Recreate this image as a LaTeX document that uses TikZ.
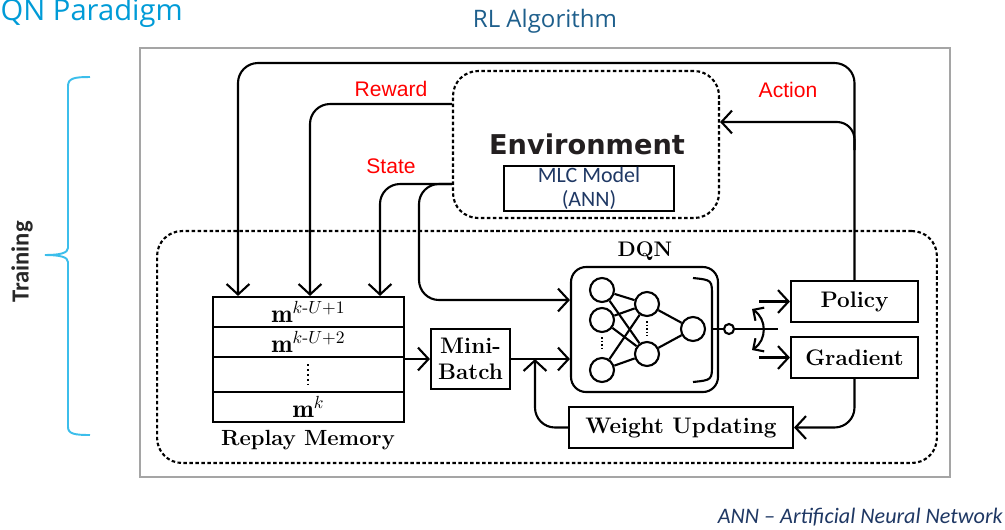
\documentclass[tikz,border=0pt]{standalone}
\usepackage{fontspec}
\usepackage{amsmath}
\usetikzlibrary{arrows.meta}
\newfontfamily\osans{Open Sans}
\newfontfamily\carlito{Carlito}
\newfontfamily\lsans{Liberation Sans}
\newfontfamily\djv{DejaVu Sans}
\definecolor{titleblue}{RGB}{0,155,215}
\definecolor{rlblue}{RGB}{30,95,140}
\definecolor{navy}{RGB}{31,56,100}
\definecolor{bracecyan}{RGB}{60,190,235}
\definecolor{framegray}{RGB}{165,165,165}
\definecolor{envblack}{RGB}{35,31,32}
\definecolor{trgray}{RGB}{40,40,40}
\definecolor{lblred}{RGB}{255,0,0}
\begin{document}
\begin{tikzpicture}[x=0.02cm,y=-0.02cm,
  ln/.style={line width=1.2pt},
  tip/.tip={Straight Barb[length=6pt,width=13pt,line width=1.2pt]},
  stip/.tip={Straight Barb[length=4.5pt,width=9pt,line width=1.2pt]},
  arr/.style={ln,-tip},
  dotbox/.style={draw,line width=1.2pt,dash pattern=on 2pt off 1.4pt,rounded corners=0.5cm},
  boxst/.style={draw,ln,inner sep=0pt,font=\bfseries\fontsize{12.8}{15}\selectfont},
  row/.style={draw,ln,inner sep=0pt,minimum width=3.82cm,font=\fontsize{14.5}{16}\selectfont},
  neu/.style={circle,draw,ln,minimum size=0.48cm,inner sep=0pt},
  rlabel/.style={font=\lsans\fontsize{12}{14}\selectfont,text=lblred},
]
\useasboundingbox (0,0) rectangle (1005,529);

% titles
\node[anchor=base east,inner sep=0pt,font=\osans\fontsize{16.6}{19}\selectfont,text=titleblue] (ttl) at (183,20) {DQN Paradigm};
\node[anchor=base,inner sep=0pt,font=\osans\fontsize{13.7}{16}\selectfont,text=rlblue] (rl) at (545,27) {RL Algorithm};

% outer frame
\draw[framegray,line width=1.3pt] (140,48) rectangle (950,477);

% environment
\node[dotbox,minimum width=5.32cm,minimum height=2.94cm] (env) at (586,144.5) {};
\node[font=\djv\bfseries\fontsize{15.5}{18}\selectfont,text=envblack] (envt) at (587,144) {Environment};
\node[draw,line width=1.3pt,minimum width=3.4cm,minimum height=0.9cm,inner sep=0pt,align=center,
      font=\carlito\fontsize{12.5}{13.5}\selectfont,text=navy] (mlc) at (589,188.5) {MLC Model\\(ANN)};

% training box
\node[dotbox,minimum width=15.6cm,minimum height=4.64cm] (train) at (547,347) {};

% replay memory
\node[row,minimum height=0.6cm] (r1) at (308.5,312) {$\mathbf{m}^{k\text{-}U+1}$};
\node[row,minimum height=0.6cm] (r2) at (308.5,342) {$\mathbf{m}^{k\text{-}U+2}$};
\node[row,minimum height=0.7cm] (r3) at (308.5,374.5) {};
\node[row,minimum height=0.6cm] (r4) at (308.5,407) {$\mathbf{m}^{k}$};
\draw[line width=1.6pt,dash pattern=on 1.4pt off 1.4pt] (308,364) -- (308,384);
\node[font=\bfseries\fontsize{12.5}{14}\selectfont] (rml) at (308,440) {Replay Memory};

% mini-batch
\node[boxst,minimum width=1.58cm,minimum height=1.2cm,align=center] (mb) at (470.5,359) {Mini-\\Batch};

% DQN
\node[draw,ln,rounded corners=0.3cm,minimum width=2.94cm,minimum height=2.5cm] (dqn) at (644.5,329.5) {};
\node[font=\bfseries\fontsize{12}{14}\selectfont] (dqnl) at (645,251) {DQN};
\node[neu] (i1) at (602,290) {};
\node[neu] (i2) at (602,320) {};
\node[neu] (i3) at (602,370) {};
\node[neu] (h1) at (647,304) {};
\node[neu] (h2) at (647,354) {};
\node[neu] (o) at (693,329) {};
\foreach \a in {i1,i2,i3}{\foreach \b in {h1,h2}{\draw[ln] (\a) -- (\b);}}
\draw[ln] (h1) -- (o);
\draw[ln] (h2) -- (o);
\draw[line width=1.2pt,dash pattern=on 1pt off 1pt] (602,337) -- (602,351);
\draw[line width=1.2pt,dash pattern=on 1pt off 1pt] (647,321) -- (647,336);
\draw[ln] (693,278) .. controls (712,280) .. (712,296) -- (712,364) .. controls (712,380) .. (693,382);
\coordinate (bk) at (712,329);
\node[circle,draw,ln,minimum size=0.2cm,inner sep=0pt] (sc) at (729,329) {};
\coordinate (oe) at (778,329);
\draw[ln] (bk) -- (sc.west);
\draw[ln] (sc.east) -- (oe);
\coordinate (swt) at (752,309);
\coordinate (swb) at (752,350);
\draw[ln,stip-stip] (swt) .. controls (767,319) and (767,340) .. (swb);

% policy, gradient, weight updating
\node[boxst,minimum width=2.54cm,minimum height=0.82cm] (pol) at (854.5,301.5) {Policy};
\node[boxst,minimum width=2.54cm,minimum height=0.82cm] (grad) at (854.5,357.5) {Gradient};
\node[boxst,minimum width=4.48cm,minimum height=0.82cm] (wu) at (681,427.5) {Weight Updating};
\coordinate (pa) at (759,301.5);
\coordinate (ga) at (759,357.5);
\draw[arr] (pa) -- (pol.west);
\draw[arr] (ga) -- (grad.west);

% connectors
\coordinate (c1) at (854.5,63);
\coordinate (c2) at (238,63);
\draw[arr,rounded corners=0.4cm] (pol.north) -- (c1) -- (c2) -- (c2 |- r1.north);
\coordinate (aj) at (854.5,150);
\coordinate (ac) at (854.5,122);
\draw[arr,rounded corners=0.35cm] (aj) -- (ac) -- (ac -| env.east);
\coordinate (rw) at (310,104);
\draw[arr,rounded corners=0.4cm] (rw -| env.west) -- (rw) -- (rw |- r1.north);
\coordinate (s1) at (380,184);
\coordinate (s2) at (419,184);
\coordinate (s3) at (419,300);
\draw[arr,rounded corners=0.4cm] (s1 -| env.west) -- (s1) -- (s1 |- r1.north);
\draw[arr,rounded corners=0.4cm] (s2 -| env.west) -- (s2) -- (s3) -- (s3 -| dqn.west);
\draw[arr] (mb.west -| r2.east) -- (mb.west);
\draw[arr] (mb.east) -- (mb.east -| dqn.west);
\coordinate (wj) at (535,427.5);
\draw[arr,rounded corners=0.4cm] (wu.west) -- (wj) -- (wj |- mb.east);
\coordinate (gc) at (854.5,427.5);
\draw[arr,rounded corners=0.4cm] (grad.south) -- (gc) -- (wu.east);

% labels
\node[rlabel] (rwl) at (391,89) {Reward};
\node[rlabel] (stl) at (391,166) {State};
\node[rlabel] (acl) at (788,90) {Action};

% training brace
\draw[bracecyan,line width=1.1pt] (90,77) .. controls (75,77) and (68,78) .. (68,86) -- (68,248)
  .. controls (68,253) and (60,255) .. (45,255) .. controls (60,255) and (68,257) .. (68,262)
  -- (68,427) .. controls (68,434) and (75,435) .. (90,435);
\node[rotate=90,font=\carlito\bfseries\fontsize{14}{16}\selectfont,text=trgray] (trn) at (22,262) {Training};

% footnote
\node[anchor=base east,inner sep=0pt,font=\carlito\itshape\fontsize{12.6}{14}\selectfont,text=navy] (fn) at (1003,523) {ANN – Artificial Neural Network};
\end{tikzpicture}
\end{document}
